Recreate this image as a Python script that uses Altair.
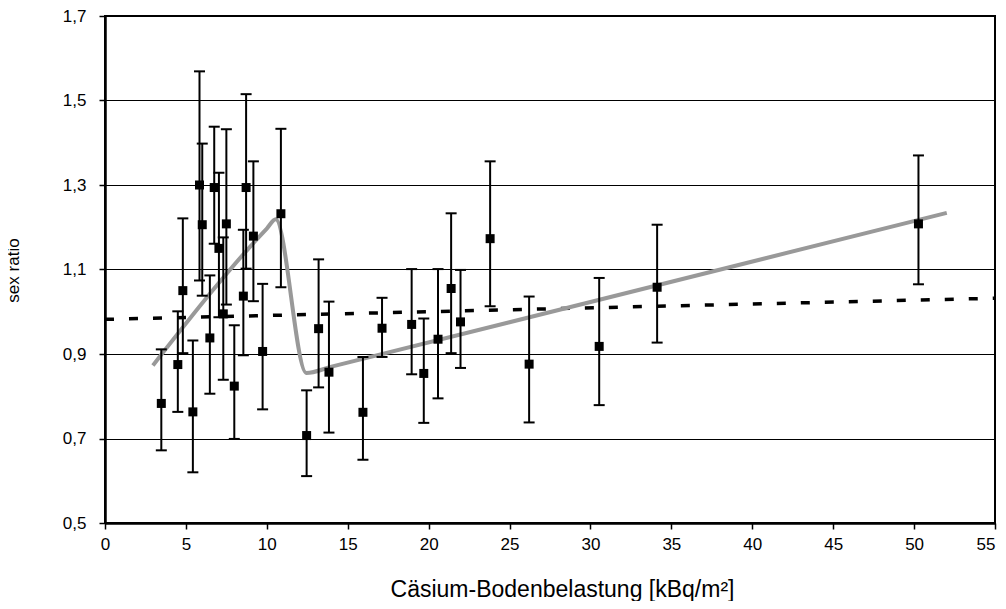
import altair as alt
import pandas as pd

# ---- data ----
x_vals = [3.48, 4.50, 4.81, 5.43, 5.84, 6.01, 6.48, 6.75, 7.04, 7.31, 7.50, 7.99,
          8.55, 8.72, 9.17, 9.74, 10.87, 12.46, 13.20, 13.84, 15.94, 17.12, 18.95,
          19.70, 20.58, 21.39, 21.97, 23.80, 26.21, 30.54, 34.12, 50.27]
y_vals = [0.783, 0.875, 1.050, 0.763, 1.300, 1.206, 0.938, 1.294, 1.150, 0.995, 1.208, 0.824,
          1.037, 1.294, 1.179, 0.906, 1.232, 0.707, 0.960, 0.857, 0.762, 0.961, 0.970,
          0.854, 0.935, 1.055, 0.976, 1.173, 0.876, 0.918, 1.058, 1.208]
lo_vals = [0.672, 0.763, 0.902, 0.620, 1.074, 1.038, 0.806, 1.161, 0.987, 0.839, 1.017, 0.699,
           0.897, 1.102, 1.025, 0.769, 1.058, 0.611, 0.821, 0.714, 0.650, 0.893, 0.852,
           0.737, 0.795, 0.902, 0.867, 1.013, 0.738, 0.779, 0.927, 1.065]
hi_vals = [0.911, 1.001, 1.221, 0.932, 1.569, 1.398, 1.086, 1.438, 1.329, 1.176, 1.432, 0.968,
           1.194, 1.515, 1.356, 1.066, 1.433, 0.814, 1.124, 1.024, 0.893, 1.033, 1.101,
           0.984, 1.101, 1.233, 1.099, 1.356, 1.036, 1.080, 1.206, 1.370]

curve_x = [2.96, 10.0, 10.55, 12.44, 14.0, 52.02]
curve_y = [0.873, 1.197, 1.219, 0.855, 0.870, 1.234]

trend_x = [0, 55]
trend_y = [0.982, 1.032]

x_ticks = [0, 5, 10, 15, 20, 25, 30, 35, 40, 45, 50, 55]
y_ticks = [0.5, 0.7, 0.9, 1.1, 1.3, 1.5, 1.7]

FONT = "Liberation Sans"

pts = pd.DataFrame({"x": x_vals, "y": y_vals, "lo": lo_vals, "hi": hi_vals})
curve = pd.DataFrame({"x": curve_x, "y": curve_y})
trend = pd.DataFrame({"x": trend_x, "y": trend_y})

xs = alt.Scale(domain=[0, 55], nice=False, zero=False)
ys = alt.Scale(domain=[0.5, 1.7], nice=False, zero=False)

x_axis = alt.Axis(values=x_ticks, title="Cäsium-Bodenbelastung [kBq/m²]", grid=False,
                  domainColor="black", domainWidth=2.5, tickColor="black", tickWidth=1.5,
                  tickSize=6, labelPadding=7, labelFontSize=17, labelFont=FONT,
                  labelColor="black",
                  labelAlign={"condition": {"test": "datum.value == 55", "value": "right"},
                              "value": "center"},
                  titleFont=FONT, titleFontSize=23, titleFontWeight="normal",
                  titleColor="black", titlePadding=26, titleX=457, labelFlush=False)
y_axis = alt.Axis(values=y_ticks, title="sex ratio", grid=True, gridColor="black",
                  gridWidth=1, gridOpacity=1,
                  domainColor="black", domainWidth=2.5, tickColor="black", tickWidth=1.5,
                  tickSize=6, labelPadding=13, labelFontSize=17, labelFont=FONT,
                  labelColor="black",
                  labelExpr="replace(format(datum.value, '.1f'), '.', ',')",
                  titleFont=FONT, titleFontSize=17, titleFontWeight="normal", titleColor="black",
                  titleX=-87, titleY=254, titleAngle=270, titleAlign="center",
                  titleBaseline="alphabetic", labelFlush=False)

X = alt.X("x:Q", scale=xs, axis=x_axis)

base_trend = alt.Chart(trend).mark_line(color="black", strokeWidth=3.5,
                                        strokeDash=[9, 15]).encode(
    x=X,
    y=alt.Y("y:Q", scale=ys, axis=y_axis),
)

gray = alt.Chart(curve).mark_line(color="#999999", strokeWidth=4,
                                  interpolate="monotone").encode(
    x=X,
    y=alt.Y("y:Q", scale=ys, axis=y_axis),
)

bars = alt.Chart(pts).mark_rule(color="black", strokeWidth=2).encode(
    x=X,
    y=alt.Y("lo:Q", scale=ys, axis=y_axis),
    y2="hi:Q",
)

cap_lo = alt.Chart(pts).mark_tick(color="black", orient="horizontal", size=11,
                                  thickness=2, opacity=1).encode(
    x=X,
    y=alt.Y("lo:Q", scale=ys, axis=y_axis),
)
cap_hi = alt.Chart(pts).mark_tick(color="black", orient="horizontal", size=11,
                                  thickness=2, opacity=1).encode(
    x=X,
    y=alt.Y("hi:Q", scale=ys, axis=y_axis),
)

squares = alt.Chart(pts).mark_square(color="black", size=81, opacity=1).encode(
    x=X,
    y=alt.Y("y:Q", scale=ys, axis=y_axis),
)

chart = alt.layer(base_trend, gray, bars, cap_lo, cap_hi, squares).properties(
    width=890,
    height=507,
    autosize=alt.AutoSizeParams(type="none"),
    padding={"left": 97, "top": 8, "right": 3, "bottom": 78},
    background="white",
).configure_view(stroke="black", strokeWidth=2)

chart.save("out.html", embed_options={"renderer": "svg", "actions": False})
